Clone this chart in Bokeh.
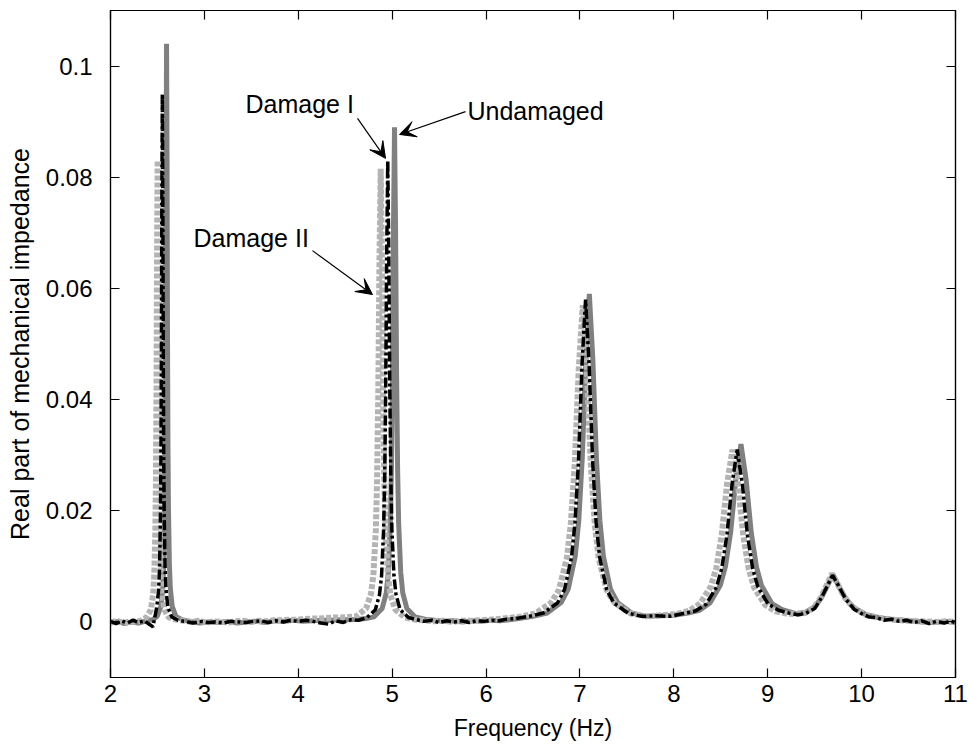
from bokeh.plotting import figure
from bokeh.models import (Range1d, FixedTicker, LinearAxis, Arrow, VeeHead, Label,
                          CustomJSTickFormatter)
from bokeh.embed import file_html
from bokeh.resources import INLINE

# ---------------- data ----------------
x_ticks = [2, 3, 4, 5, 6, 7, 8, 9, 10, 11]
y_ticks = [0, 0.02, 0.04, 0.06, 0.08, 0.1]
y_tick_labels = ["0", "0.02", "0.04", "0.06", "0.08", "0.1"]

undamaged_f = [2.00, 2.08, 2.15, 2.22, 2.30, 2.38, 2.45,
               2.497, 2.537, 2.557, 2.567, 2.577, 2.582, 2.587, 2.592, 2.597, 2.602, 2.607, 2.612, 2.617, 2.627, 2.637, 2.657, 2.697,
               2.76, 2.85, 2.95, 3.05, 3.15, 3.25, 3.35, 3.45, 3.55, 3.65, 3.75, 3.85, 3.95, 4.05, 4.15, 4.25, 4.35, 4.45, 4.55, 4.65, 4.72,
               4.805, 4.893, 4.937, 4.959, 4.981, 4.992, 5.003, 5.014, 5.025, 5.036, 5.047, 5.058, 5.069, 5.091, 5.113, 5.157, 5.245,
               5.35, 5.45, 5.55, 5.65, 5.75, 5.85, 5.95, 6.05, 6.15, 6.25,
               6.35, 6.50, 6.65, 6.80, 6.875, 6.95, 6.9875, 7.025, 7.0625, 7.10, 7.1375, 7.175, 7.2125, 7.25, 7.325, 7.40, 7.55, 7.70,
               7.85, 8.00, 8.15,
               8.275, 8.385, 8.495, 8.55, 8.605, 8.66, 8.715, 8.77, 8.825, 8.88, 8.935, 9.045, 9.155, 9.30, 9.40,
               9.50, 9.57, 9.63, 9.695, 9.76, 9.83, 9.92, 10.05, 10.20, 10.35, 10.50, 10.65, 10.80, 10.90, 11.00]
undamaged_v = [-0.0002, 0.0001, -0.0003, 0.0000, -0.0002, 0.0002, 0.0004,
               0.0010, 0.0028, 0.0061, 0.0104, 0.0208, 0.0320, 0.0520, 0.0830, 0.1040, 0.0830, 0.0520, 0.0320, 0.0208, 0.0104, 0.0061, 0.0028, 0.0010,
               0.0004, 0.0001, -0.0002, 0.0000, -0.0001, 0.0001, -0.0002, 0.0000, 0.0001, -0.0001, 0.0002, 0.0001, 0.0003, 0.0001, 0.0002, 0.0003, 0.0003, 0.0004, 0.0004, 0.0005, 0.0006,
               0.0009, 0.0024, 0.0052, 0.0089, 0.0178, 0.0274, 0.0445, 0.0712, 0.0890, 0.0712, 0.0445, 0.0274, 0.0178, 0.0089, 0.0052, 0.0024, 0.0009,
               0.0005, 0.0003, 0.0001, 0.0002, 0.0000, 0.0002, 0.0001, 0.0003, 0.0002, 0.0004,
               0.0006, 0.0010, 0.0016, 0.0035, 0.0059, 0.0118, 0.0182, 0.0295, 0.0472, 0.0590, 0.0472, 0.0295, 0.0182, 0.0118, 0.0059, 0.0035, 0.0016, 0.0010,
               0.0011, 0.0012, 0.0016,
               0.0021, 0.0034, 0.0066, 0.0100, 0.0161, 0.0256, 0.0320, 0.0256, 0.0160, 0.0099, 0.0065, 0.0033, 0.0022, 0.0015, 0.0017,
               0.0027, 0.0043, 0.0063, 0.0085, 0.0063, 0.0042, 0.0025, 0.0013, 0.0007, 0.0004, 0.0002, 0.0000, -0.0001, 0.0001, -0.0001]

damage1_f = [2.00, 2.06, 2.12, 2.18, 2.24, 2.30, 2.36, 2.41, 2.43,
             2.452, 2.492, 2.512, 2.522, 2.532, 2.537, 2.542, 2.547, 2.552, 2.557, 2.562, 2.567, 2.572, 2.582, 2.592, 2.612, 2.652,
             2.72, 2.80, 2.88, 2.96, 3.04, 3.12, 3.20, 3.28, 3.36, 3.44, 3.52, 3.60, 3.68, 3.76, 3.84, 3.92, 4.00, 4.08, 4.16, 4.24, 4.32, 4.40, 4.48, 4.56, 4.64,
             4.733, 4.821, 4.865, 4.887, 4.909, 4.920, 4.931, 4.942, 4.953, 4.964, 4.975, 4.986, 4.997, 5.019, 5.041, 5.085, 5.173,
             5.26, 5.34, 5.42, 5.50, 5.58, 5.66, 5.74, 5.82, 5.90, 5.98, 6.06, 6.14, 6.22,
             6.31, 6.46, 6.61, 6.76, 6.835, 6.91, 6.9475, 6.985, 7.0225, 7.06, 7.0975, 7.135, 7.1725, 7.21, 7.285, 7.36, 7.51, 7.66,
             7.81, 7.96, 8.10,
             8.235, 8.345, 8.455, 8.51, 8.565, 8.62, 8.675, 8.73, 8.785, 8.84, 8.895, 9.005, 9.115, 9.22, 9.32, 9.40,
             9.50, 9.57, 9.63, 9.69, 9.755, 9.83, 9.92, 10.00, 10.08, 10.16, 10.24, 10.32, 10.40, 10.48, 10.56, 10.64, 10.72, 10.80, 10.88, 10.95, 11.00]
damage1_v = [0.0001, -0.0003, 0.0002, -0.0002, 0.0003, -0.0001, 0.0002, -0.0004, -0.0006,
             -0.0009, 0.0026, 0.0056, 0.0095, 0.0190, 0.0293, 0.0475, 0.0760, 0.0950, 0.0760, 0.0475, 0.0293, 0.0190, 0.0095, 0.0056, 0.0026, 0.0009,
             0.0003, 0.0001, -0.0002, 0.0001, -0.0001, 0.0000, -0.0002, 0.0001, 0.0000, -0.0001, 0.0001, 0.0002, -0.0001, 0.0002, 0.0000, 0.0003, 0.0001, 0.0003, 0.0001, -0.0002, -0.0004, 0.0002, -0.0001, 0.0004, 0.0003,
             0.0008, 0.0022, 0.0049, 0.0083, 0.0166, 0.0256, 0.0415, 0.0664, 0.0830, 0.0664, 0.0415, 0.0256, 0.0166, 0.0083, 0.0049, 0.0022, 0.0008,
             0.0004, 0.0001, 0.0003, -0.0001, 0.0002, 0.0000, 0.0002, -0.0001, 0.0002, 0.0001, 0.0003, 0.0002, 0.0005,
             0.0006, 0.0010, 0.0016, 0.0034, 0.0058, 0.0116, 0.0179, 0.0290, 0.0464, 0.0580, 0.0464, 0.0290, 0.0179, 0.0116, 0.0058, 0.0034, 0.0016, 0.0010,
             0.0011, 0.0010, 0.0015,
             0.0020, 0.0032, 0.0063, 0.0096, 0.0156, 0.0248, 0.0310, 0.0248, 0.0155, 0.0096, 0.0063, 0.0032, 0.0021, 0.0016, 0.0013, 0.0015,
             0.0024, 0.0043, 0.0063, 0.0084, 0.0065, 0.0041, 0.0023, 0.0015, 0.0009, 0.0008, 0.0003, 0.0005, 0.0001, 0.0003, -0.0001, 0.0002, -0.0003, 0.0001, -0.0002, 0.0001, -0.0001]

damage2_f = [2.00, 2.07, 2.14, 2.21, 2.28, 2.33,
             2.382, 2.430, 2.454, 2.466, 2.478, 2.484, 2.490, 2.496, 2.502, 2.508, 2.514, 2.520, 2.526, 2.538, 2.550, 2.574, 2.622,
             2.70, 2.78, 2.86, 2.94, 3.02, 3.10, 3.18, 3.26, 3.34, 3.42, 3.50, 3.58, 3.66, 3.74, 3.82, 3.90, 3.98, 4.06, 4.14, 4.22, 4.30, 4.38, 4.46, 4.54,
             4.618, 4.722, 4.774, 4.800, 4.826, 4.839, 4.852, 4.865, 4.878, 4.891, 4.904, 4.917, 4.930, 4.956, 4.982, 5.034, 5.138,
             5.24, 5.34, 5.44, 5.54, 5.64, 5.74, 5.84, 5.94, 6.04,
             6.18, 6.35, 6.52, 6.69, 6.775, 6.86, 6.9025, 6.945, 6.9875, 7.03, 7.0725, 7.115, 7.1575, 7.20, 7.285, 7.37, 7.54, 7.71,
             7.88, 8.02,
             8.165, 8.28, 8.395, 8.4525, 8.51, 8.5675, 8.625, 8.6825, 8.74, 8.7975, 8.855, 8.97, 9.085, 9.20, 9.30, 9.40,
             9.50, 9.57, 9.625, 9.685, 9.75, 9.82, 9.91, 10.05, 10.20, 10.35, 10.50, 10.65, 10.80, 10.90, 11.00]
damage2_v = [-0.0001, 0.0002, -0.0002, 0.0001, 0.0000, 0.0003,
             0.0008, 0.0022, 0.0049, 0.0083, 0.0166, 0.0256, 0.0415, 0.0664, 0.0830, 0.0664, 0.0415, 0.0256, 0.0166, 0.0083, 0.0049, 0.0022, 0.0008,
             0.0004, 0.0002, 0.0000, 0.0002, -0.0001, 0.0001, 0.0000, -0.0001, 0.0001, 0.0002, 0.0000, 0.0002, 0.0001, 0.0003, 0.0003, 0.0004, 0.0004, 0.0005, 0.0006, 0.0006, 0.0007, 0.0008, 0.0008, 0.0009,
             0.0010, 0.0024, 0.0050, 0.0084, 0.0165, 0.0253, 0.0410, 0.0655, 0.0815, 0.0652, 0.0408, 0.0251, 0.0163, 0.0082, 0.0048, 0.0022, 0.0008,
             0.0004, 0.0003, 0.0001, 0.0002, 0.0000, 0.0002, 0.0002, 0.0003, 0.0004,
             0.0006, 0.0009, 0.0015, 0.0034, 0.0057, 0.0114, 0.0176, 0.0285, 0.0456, 0.0570, 0.0456, 0.0285, 0.0176, 0.0114, 0.0057, 0.0034, 0.0015, 0.0010,
             0.0012, 0.0014,
             0.0020, 0.0033, 0.0064, 0.0097, 0.0157, 0.0249, 0.0310, 0.0248, 0.0155, 0.0095, 0.0062, 0.0031, 0.0019, 0.0015, 0.0014, 0.0016,
             0.0027, 0.0045, 0.0065, 0.0087, 0.0066, 0.0044, 0.0026, 0.0012, 0.0007, 0.0004, 0.0002, 0.0001, 0.0000, 0.0001, 0.0000]

# ---------------- figure ----------------
FONT = "Liberation Sans"

p = figure(width=969, height=751, output_backend="svg", toolbar_location=None,
           x_range=Range1d(2, 11), y_range=Range1d(-0.01, 0.11),
           min_border_left=110, min_border_right=14, min_border_top=10, min_border_bottom=74,
           background_fill_color="white", border_fill_color="white")
p.grid.visible = False
p.outline_line_color = "black"
p.outline_line_width = 1.2

p.xaxis.ticker = FixedTicker(ticks=x_ticks)
p.yaxis.ticker = FixedTicker(ticks=y_ticks)
p.yaxis.major_label_overrides = {t: s for t, s in zip(y_ticks, y_tick_labels)}
p.xaxis.axis_label = "Frequency (Hz)"
p.yaxis.axis_label = "Real part of mechanical impedance"

for ax in (p.xaxis[0], p.yaxis[0]):
    ax.major_tick_in = 9
    ax.major_tick_out = 0
    ax.minor_tick_in = 0
    ax.minor_tick_out = 0
    ax.axis_line_color = "black"
    ax.axis_line_width = 1.2
    ax.major_tick_line_width = 1.2
    ax.major_label_text_font = FONT
    ax.major_label_text_font_size = "24px"
    ax.major_label_text_color = "black"
    ax.axis_label_text_font = FONT
    ax.axis_label_text_font_style = "normal"
    ax.axis_label_text_color = "black"

p.xaxis.axis_label_text_font_size = "23px"
p.yaxis.axis_label_text_font_size = "25px"
p.xaxis.major_label_standoff = 7
p.xaxis.axis_label_standoff = 10
p.yaxis.major_label_standoff = 18
p.yaxis.axis_label_standoff = 9

blank = CustomJSTickFormatter(code="return ''")
top_ax = LinearAxis(ticker=FixedTicker(ticks=x_ticks), formatter=blank,
                    major_tick_in=9, major_tick_out=0, minor_tick_in=0, minor_tick_out=0,
                    major_label_standoff=0, axis_line_width=1.2, major_tick_line_width=1.2,
                    major_label_text_font_size="1px")
right_ax = LinearAxis(ticker=FixedTicker(ticks=y_ticks), formatter=blank,
                      major_tick_in=9, major_tick_out=0, minor_tick_in=0, minor_tick_out=0,
                      major_label_standoff=0, axis_line_width=1.2, major_tick_line_width=1.2,
                      major_label_text_font_size="1px")
p.add_layout(top_ax, "above")
p.add_layout(right_ax, "right")

# ---------------- curves ----------------
p.line(undamaged_f, undamaged_v, line_color="#808080", line_width=5)
p.line(damage2_f, damage2_v, line_color="#b4b4b4", line_width=6, line_dash="5 2")
p.line(damage1_f, damage1_v, line_color="black", line_width=3.5, line_dash="10 3 3 3")

# ---------------- annotations ----------------
def add_arrow(xs, ys, xe, ye):
    p.add_layout(Arrow(end=VeeHead(size=16, fill_color="black", line_color="black", line_width=1),
                       x_start=xs, y_start=ys, x_end=xe, y_end=ye,
                       line_color="black", line_width=1.2))

add_arrow(4.631, 0.0906, 4.929, 0.0834)
add_arrow(5.781, 0.0918, 5.078, 0.0877)
add_arrow(4.151, 0.0668, 4.790, 0.0589)

for tx, ty, txt in [(3.438, 0.0932, "Damage I"),
                    (5.802, 0.0919, "Undamaged"),
                    (2.884, 0.0690, "Damage II")]:
    p.add_layout(Label(x=tx, y=ty, text=txt, text_font=FONT, text_font_size="25px",
                       text_color="black", text_baseline="alphabetic", text_align="left"))

open("out.html", "w").write(file_html(p, INLINE))
